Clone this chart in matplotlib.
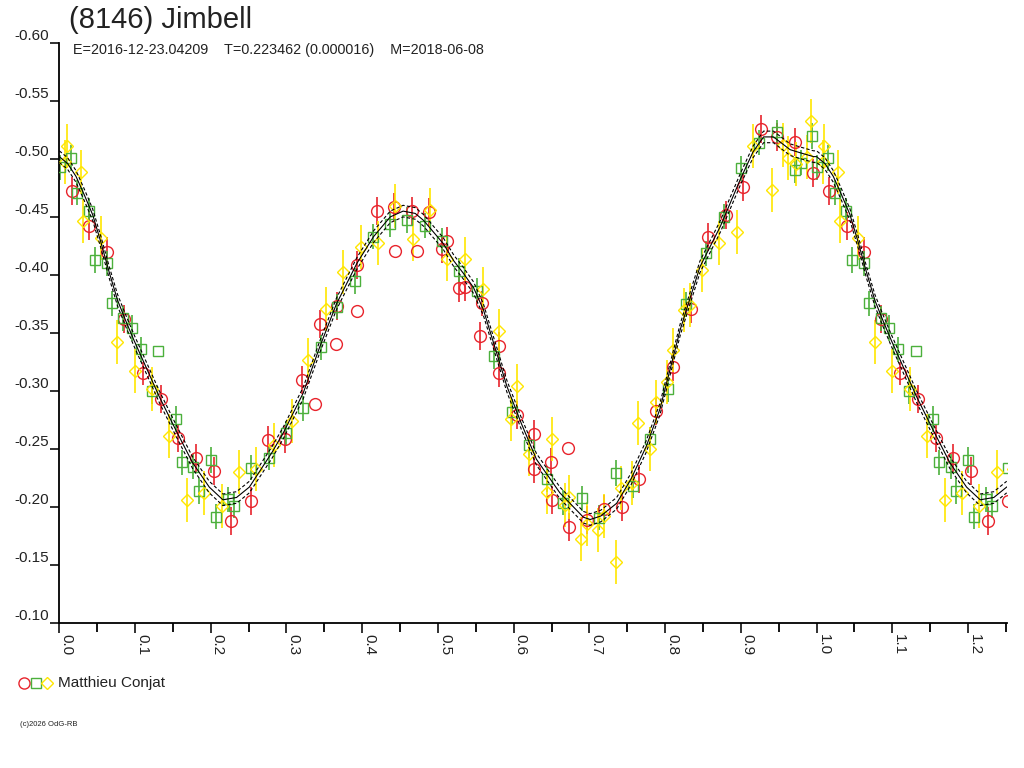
import matplotlib
matplotlib.use('Agg')
import matplotlib.pyplot as plt
from matplotlib.lines import Line2D
import numpy as np

plt.rcParams['font.family'] = ['Liberation Sans', 'DejaVu Sans']

# ---------------- text ----------------
title = "(8146) Jimbell"
subtitle = "E=2016-12-23.04209    T=0.223462 (0.000016)    M=2018-06-08"
observer = "Matthieu Conjat"
copyright_text = "(c)2026 OdG-RB"

# ---------------- fitted curve ----------------
fit_phase = [0.000, 0.011, 0.022, 0.033, 0.044, 0.055, 0.066, 0.077, 0.088, 0.099,
             0.110, 0.132, 0.154, 0.176, 0.198, 0.216, 0.234, 0.251, 0.265, 0.281,
             0.296, 0.322, 0.344, 0.366, 0.393, 0.415, 0.437, 0.454, 0.470, 0.481,
             0.507, 0.521, 0.534, 0.547, 0.560, 0.575, 0.591, 0.610, 0.630, 0.661,
             0.692, 0.701, 0.715, 0.736, 0.755, 0.775, 0.793, 0.820, 0.846, 0.873,
             0.899, 0.916, 0.930, 0.943, 0.955, 0.965, 0.980, 0.996]
fit_mag = [-0.502, -0.496, -0.485, -0.469, -0.452, -0.428, -0.402, -0.378, -0.360, -0.343,
           -0.327, -0.295, -0.266, -0.238, -0.217, -0.206, -0.208, -0.217, -0.231, -0.247,
           -0.264, -0.298, -0.338, -0.375, -0.410, -0.433, -0.450, -0.455, -0.453, -0.447,
           -0.427, -0.412, -0.401, -0.389, -0.370, -0.338, -0.304, -0.272, -0.241, -0.212,
           -0.191, -0.189, -0.192, -0.203, -0.224, -0.252, -0.284, -0.353, -0.407, -0.442,
           -0.482, -0.506, -0.519, -0.519, -0.513, -0.508, -0.505, -0.502]
fit_band = 0.005

# ---------------- observations ----------------
red_phase = [0.0163, 0.0396, 0.0626, 0.0854, 0.1101, 0.1339, 0.1571, 0.1805, 0.2043, 0.2267,
             0.2527, 0.2760, 0.2980, 0.3209, 0.3377, 0.3443, 0.3650, 0.3671, 0.3927, 0.3935,
             0.4191, 0.4429, 0.4420, 0.4661, 0.4719, 0.4886, 0.5050, 0.5115, 0.5282, 0.5357,
             0.5555, 0.5578, 0.5810, 0.5810, 0.6048, 0.6268, 0.6273, 0.6489, 0.6510, 0.6721,
             0.6735, 0.6964, 0.7193, 0.7427, 0.7655, 0.7880, 0.8108, 0.8342, 0.8570, 0.8804,
             0.9032, 0.9262, 0.9473, 0.9715, 0.9948]
red_mag = [-0.4723, -0.4424, -0.4200, -0.3617, -0.3151, -0.2927, -0.2590, -0.2423, -0.2311, -0.1880,
           -0.2050, -0.2580, -0.2582, -0.3093, -0.2886, -0.3574, -0.3404, -0.3731, -0.3688, -0.4085,
           -0.4554, -0.4209, -0.4583, -0.4554, -0.4206, -0.4545, -0.4223, -0.4295, -0.3884, -0.3898,
           -0.3473, -0.3755, -0.3387, -0.3151, -0.2791, -0.2628, -0.2323, -0.2389, -0.2058, -0.2504,
           -0.1823, -0.1886, -0.1978, -0.1995, -0.2237, -0.2829, -0.3208, -0.3703, -0.4329, -0.4516,
           -0.4761, -0.5256, -0.5187, -0.5149, -0.4881]
red_err = [0.012, 0.012, 0.013, 0.012, 0.010, 0.012, 0.012, 0.012, 0.012, 0.012,
           0.012, 0.012, 0.012, 0.012, 0.0, 0.012, 0.0, 0.012, 0.0, 0.012,
           0.012, 0.0, 0.012, 0.012, 0.0, 0.012, 0.012, 0.012, 0.012, 0.012,
           0.012, 0.011, 0.012, 0.012, 0.012, 0.012, 0.012, 0.012, 0.012, 0.0,
           0.012, 0.012, 0.012, 0.012, 0.012, 0.012, 0.012, 0.012, 0.012, 0.012,
           0.012, 0.012, 0.012, 0.012, 0.012]

green_phase = [0.0009, 0.0155, 0.0238, 0.0392, 0.0471, 0.0626, 0.0692, 0.0845, 0.0956, 0.1079,
               0.1307, 0.1220, 0.1537, 0.1616, 0.1770, 0.1999, 0.1845, 0.2073, 0.2232, 0.2311,
               0.2531, 0.2770, 0.2994, 0.3222, 0.3452, 0.3671, 0.3909, 0.4146, 0.4367, 0.4595,
               0.4829, 0.5057, 0.5282, 0.5520, 0.5744, 0.5974, 0.6202, 0.6436, 0.6655, 0.6898,
               0.7131, 0.7347, 0.7580, 0.7800, 0.8042, 0.8272, 0.8536, 0.8777, 0.9002, 0.9243,
               0.9481, 0.9715, 0.9794, 0.9935]
green_mag = [-0.4928, -0.5006, -0.4709, -0.4554, -0.4128, -0.4100, -0.3755, -0.3625, -0.3544, -0.3358,
             -0.3343, -0.2998, -0.2757, -0.2383, -0.2346, -0.2403, -0.2136, -0.1914, -0.2064, -0.2009,
             -0.2337, -0.2423, -0.2634, -0.2849, -0.3375, -0.3726, -0.3947, -0.4329, -0.4439, -0.4473,
             -0.4424, -0.4295, -0.4036, -0.3861, -0.3300, -0.2820, -0.2533, -0.2239, -0.2035, -0.2073,
             -0.1906, -0.2289, -0.2182, -0.2582, -0.3016, -0.3746, -0.4186, -0.4502, -0.4919, -0.5140,
             -0.5230, -0.4905, -0.4968, -0.5200]
green_err = [0.011] * 10 + [0.0] + [0.011] * 43

yellow_phase = [0.0080, 0.0097, 0.0282, 0.0309, 0.0547, 0.0766, 0.1000, 0.1228, 0.1453, 0.1690,
                0.1915, 0.2145, 0.2377, 0.2597, 0.2835, 0.3069, 0.3288, 0.3522, 0.3750, 0.3984,
                0.4212, 0.4433, 0.4667, 0.4895, 0.5115, 0.5357, 0.5591, 0.5810, 0.5961, 0.6048,
                0.6202, 0.6436, 0.6502, 0.6678, 0.6730, 0.6885, 0.6964, 0.7117, 0.7193, 0.7347,
                0.7417, 0.7567, 0.7645, 0.7800, 0.7875, 0.8029, 0.8108, 0.8254, 0.8328, 0.8483,
                0.8715, 0.8945, 0.9164, 0.9407, 0.9552, 0.9626, 0.9728, 0.9869, 0.9922]
yellow_mag = [-0.4970, -0.5114, -0.4890, -0.4467, -0.4316, -0.3424, -0.3171, -0.3013, -0.2610, -0.2058,
              -0.2121, -0.2009, -0.2297, -0.2326, -0.2533, -0.2742, -0.3266, -0.3703, -0.4028, -0.4243,
              -0.4272, -0.4594, -0.4307, -0.4560, -0.4137, -0.4137, -0.3878, -0.3516, -0.2757, -0.3042,
              -0.2452, -0.2124, -0.2582, -0.2015, -0.2087, -0.1719, -0.1849, -0.1800, -0.1920, -0.1521,
              -0.2159, -0.2207, -0.2725, -0.2496, -0.2906, -0.3079, -0.3352, -0.3697, -0.3740, -0.4042,
              -0.4272, -0.4372, -0.5114, -0.4732, -0.5120, -0.5006, -0.4956, -0.5019, -0.5330]
yellow_err = [0.019] * 59

y_ticks = [-0.60, -0.55, -0.50, -0.45, -0.40, -0.35, -0.30, -0.25, -0.20, -0.15, -0.10]
x_ticks = [0.0, 0.1, 0.2, 0.3, 0.4, 0.5, 0.6, 0.7, 0.8, 0.9, 1.0, 1.1, 1.2]
x_minor = [0.05, 0.15, 0.25, 0.35, 0.45, 0.55, 0.65, 0.75, 0.85, 0.95, 1.05, 1.15, 1.25]

RED = '#E8242C'
GREEN = '#4CB03C'
YELLOW = '#FFE600'
PHASE_MAX = 1.252


def wrap(ph, mg, er=None):
    """Repeat the first part of the cycle after phase 1 (as the chart does)."""
    ph = list(ph); mg = list(mg)
    extra = [i for i, p in enumerate(ph) if p + 1 <= PHASE_MAX + 0.01]
    p2 = ph + [ph[i] + 1 for i in extra]
    m2 = mg + [mg[i] for i in extra]
    if er is None:
        return np.array(p2), np.array(m2)
    er = list(er)
    return np.array(p2), np.array(m2), np.array(er + [er[i] for i in extra])


W, H = 1024, 768
fig = plt.figure(figsize=(W / 100, H / 100), dpi=100)
x0, x1, y0, y1 = 59.3, 1007.0, 43.0, 622.7
ax = fig.add_axes([x0 / W, 1 - y1 / H, (x1 - x0) / W, (y1 - y0) / H])
ax.set_xlim(0, (x1 - x0) / 757.3)
ax.set_ylim(-0.10, -0.60)

# observations
for ph, mg, er, col, mk, ms in [
        (red_phase, red_mag, red_err, RED, 'o', 8.5),
        (green_phase, green_mag, green_err, GREEN, 's', 6.5),
        (yellow_phase, yellow_mag, yellow_err, YELLOW, 'D', 6.0)]:
    p, m, e = wrap(ph, mg, er)
    ax.errorbar(p, m, yerr=e, fmt='none', ecolor=col, elinewidth=1.2, capsize=0, zorder=2)
    ax.plot(p, m, ls='none', marker=mk, mfc='none', mec=col, ms=ms, mew=1.0, zorder=3)

# fitted curve with envelope
fp, fm = wrap(fit_phase, fit_mag)
order = np.argsort(fp)
fp, fm = fp[order], fm[order]
ax.plot(fp, fm, color='black', lw=0.8, zorder=4)
ax.plot(fp, fm - fit_band, color='black', lw=0.8, ls=(0, (3, 2)), zorder=4)
ax.plot(fp, fm + fit_band, color='black', lw=0.8, ls=(0, (3, 2)), zorder=4)

# axes styling
for s in ['top', 'right']:
    ax.spines[s].set_visible(False)
for s in ['left', 'bottom']:
    ax.spines[s].set_linewidth(1.3)
ax.set_yticks(y_ticks)
ax.set_yticklabels(['%.2f' % v for v in y_ticks])
ax.set_xticks(x_ticks)
ax.set_xticklabels(['%.1f' % v for v in x_ticks])
ax.set_xticks(x_minor, minor=True)
ax.tick_params(axis='y', direction='out', length=6.5, width=1.3, pad=1, labelsize=11,
               colors='#222222')
ax.tick_params(axis='x', which='major', direction='out', length=7, width=1.3, pad=1,
               labelsize=11, colors='#222222')
ax.tick_params(axis='x', which='minor', direction='out', length=6.5, width=1.3)
for t in ax.yaxis.get_major_ticks():
    t.label1.set_verticalalignment('bottom')
for t in ax.xaxis.get_major_ticks():
    t.label1.set_rotation(-90)
    t.label1.set_horizontalalignment('left')
    t.label1.set_verticalalignment('top')

# texts
fig.text(69 / W, 1 - 20 / H, title, fontsize=21, ha='left', va='center', color='#222222')
fig.text(73 / W, 1 - 50 / H, subtitle, fontsize=10.4, ha='left', va='center', color='#222222')

for xm, mk, col, ms in [(24, 'o', RED, 8), (36, 's', GREEN, 6.5), (47, 'D', YELLOW, 6.0)]:
    fig.add_artist(Line2D([xm / W], [1 - 683 / H], transform=fig.transFigure, ls='none',
                          marker=mk, mfc='none', mec=col, ms=ms, mew=1.0))
fig.text(58 / W, 1 - 683 / H, observer, fontsize=11, ha='left', va='center', color='#222222')
fig.text(20 / W, 1 - 725 / H, copyright_text, fontsize=5.5, ha='left', va='center',
         color='#222222')

fig.savefig('out.png', dpi=100)
